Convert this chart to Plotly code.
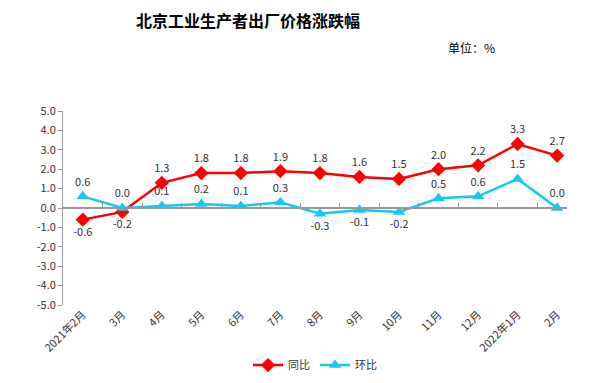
import plotly.graph_objects as go

categories = ["2021年2月", "3月", "4月", "5月", "6月", "7月", "8月", "9月", "10月", "11月", "12月", "2022年1月", "2月"]
yoy = [-0.6, -0.2, 1.3, 1.8, 1.8, 1.9, 1.8, 1.6, 1.5, 2.0, 2.2, 3.3, 2.7]
mom = [0.6, 0.0, 0.1, 0.2, 0.1, 0.3, -0.3, -0.1, -0.2, 0.5, 0.6, 1.5, 0.0]
y_ticks = [5, 4, 3, 2, 1, 0, -1, -2, -3, -4, -5]

FONT = "Noto Sans CJK SC"
RED = "#FF0000"
CYAN = "#14C8F5"

yoy_pos = ["bottom center" if v < 0 else "top center" for v in yoy]
mom_pos = ["bottom center" if v < 0 else "top center" for v in mom]

fig = go.Figure()
fig.add_trace(go.Scatter(
    x=categories, y=yoy, name="同比", mode="lines+markers+text",
    line=dict(color=RED, width=2.5),
    marker=dict(symbol="diamond", size=11, color=RED),
    text=[f"{v:.1f}" for v in yoy], textposition=yoy_pos,
    textfont=dict(family=FONT, size=11, color="#333333"),
    cliponaxis=False,
))
fig.add_trace(go.Scatter(
    x=categories, y=mom, name="环比", mode="lines+markers+text",
    line=dict(color=CYAN, width=2.5),
    marker=dict(symbol="triangle-up", size=11, color=CYAN),
    text=[f"{v:.1f}" for v in mom], textposition=mom_pos,
    textfont=dict(family=FONT, size=11, color="#333333"),
    cliponaxis=False,
))
# invisible trace to hold the zero-line axis
fig.add_trace(go.Scatter(x=categories, y=[None]*len(categories), xaxis="x2", showlegend=False, hoverinfo="skip"))

xr = [-0.5, 12.25]
fig.update_layout(
    width=595, height=383,
    margin=dict(l=55, r=36, t=103, b=78),
    paper_bgcolor="white", plot_bgcolor="white",
    font=dict(family=FONT, size=11, color="#333333"),
    title=dict(text="<b>北京工业生产者出厂价格涨跌幅</b>", x=240/595, xanchor="center",
               xref="container", yref="container",
               y=1-13/383, yanchor="middle", font=dict(family=FONT, size=16, color="black")),
    xaxis=dict(type="category", range=xr, showline=False, showgrid=False, zeroline=False,
               ticks="", tickangle=-45, tickfont=dict(family=FONT, size=11, color="#333333")),
    xaxis2=dict(type="category", range=xr, overlaying="x", anchor="free", position=0.5,
                showline=True, linecolor="#999999", linewidth=1.5, showgrid=False,
                ticks="inside", tickson="boundaries", ticklen=4, tickcolor="#999999",
                showticklabels=False, matches="x"),
    yaxis=dict(range=[-5, 5], tickvals=y_ticks, ticktext=[f"{v:.1f}" for v in y_ticks],
               showline=True, linecolor="#999999", linewidth=1, showgrid=False, zeroline=False,
               ticks="outside", ticklen=4, tickcolor="#999999",
               tickfont=dict(family=FONT, size=11, color="#333333")),
    legend=dict(orientation="h", x=0.5, xanchor="center", y=-0.235, yanchor="top",
                font=dict(family=FONT, size=11, color="#333333")),
    annotations=[dict(text="单位：%", x=(463-55)/504, y=(305-37)/202, xref="paper", yref="paper",
                      xanchor="center", yanchor="middle", showarrow=False,
                      font=dict(family=FONT, size=12, color="black"))],
)
fig.write_html("out.html")
